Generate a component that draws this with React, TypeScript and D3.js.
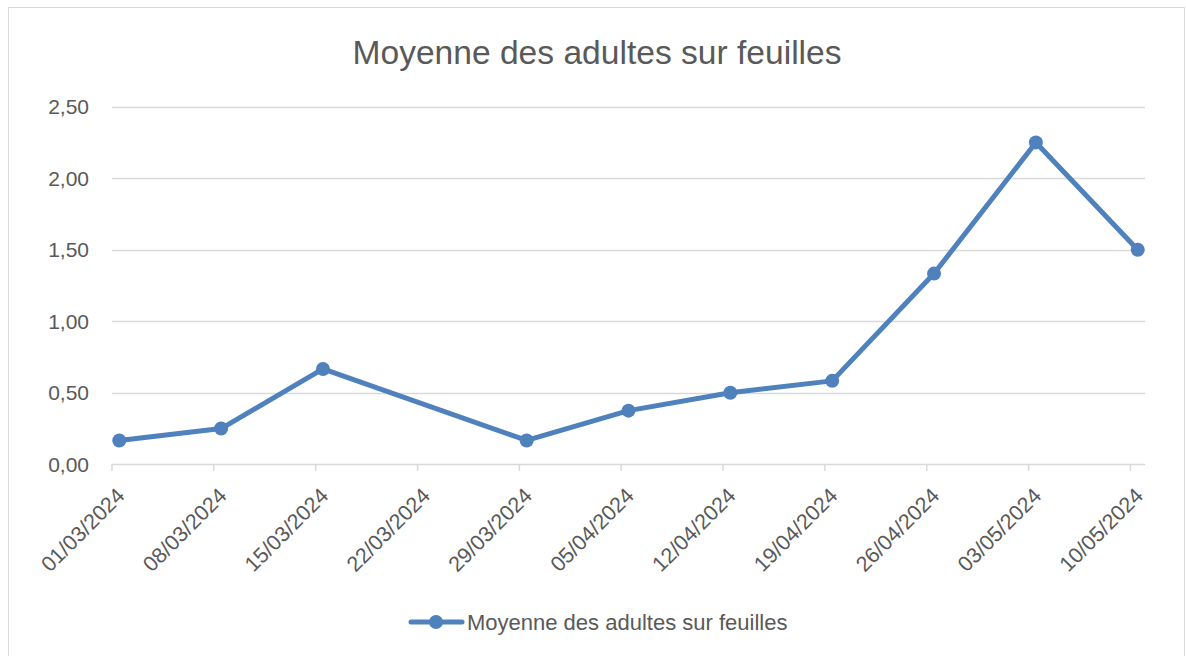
import React from "react";
import * as d3 from "d3";

const title = "Moyenne des adultes sur feuilles";
const seriesName = "Moyenne des adultes sur feuilles";
const tickDates = ["01/03/2024", "08/03/2024", "15/03/2024", "22/03/2024", "29/03/2024", "05/04/2024", "12/04/2024", "19/04/2024", "26/04/2024", "03/05/2024", "10/05/2024"];
const pointDates = ["01/03/2024", "08/03/2024", "15/03/2024", "29/03/2024", "05/04/2024", "12/04/2024", "19/04/2024", "26/04/2024", "03/05/2024", "10/05/2024"];
const pointValues = [0.1667, 0.25, 0.6667, 0.1667, 0.375, 0.5, 0.5833, 1.3333, 2.25, 1.5];
const yTicks = [0, 0.5, 1, 1.5, 2, 2.5];

const W = 1186;
const H = 656;
const FONT = "'Liberation Sans', Arial, sans-serif";
const TXT = "#595959";
const BLUE = "#4f81bd";

const parse = d3.timeParse("%d/%m/%Y");

export default function App() {
  const start = parse(tickDates[0])!;
  const end = parse(tickDates[tickDates.length - 1])!;
  const endPlus = d3.timeDay.offset(end, 1);
  // date axis with daily base unit: each day occupies a band; ticks at band starts, points at band centres
  const x = d3.scaleTime().domain([start, endPlus]).range([112, 1145]);
  const dayW = x(d3.timeDay.offset(start, 1)) - x(start);
  const y = d3.scaleLinear().domain([0, 2.5]).range([464.3, 106.7]);

  const pts = pointDates.map((d, i) => ({ x: x(parse(d)!) + dayW / 2, y: y(pointValues[i]) }));
  const line = d3.line<{ x: number; y: number }>().x((d) => d.x).y((d) => d.y);
  const fmt = (v: number) => d3.format(".2f")(v).replace(".", ",");

  return (
    <div style={{ position: "fixed", left: 0, top: 0 }}>
      <svg width={W} height={H} style={{ display: "block", background: "#fff" }}>
        <rect x={8.5} y={7.5} width={1176} height={660} fill="#fff" stroke="#d9d9d9" strokeWidth={1} />
        <text x={597} y={64} textAnchor="middle" fontFamily={FONT} fontSize={33.6} fill={TXT}>
          {title}
        </text>
        {yTicks.map((t) => (
          <g key={t}>
            <line x1={112} x2={1145} y1={Math.round(y(t)) + 0.5} y2={Math.round(y(t)) + 0.5} stroke="#d9d9d9" strokeWidth={1.5} />
            <text x={89} y={y(t) + 7.5} textAnchor="end" fontFamily={FONT} fontSize={21} fill={TXT}>
              {fmt(t)}
            </text>
          </g>
        ))}
        {tickDates.map((d) => {
          const tx = x(parse(d)!);
          return (
            <g key={d}>
              <line x1={tx} x2={tx} y1={464} y2={471} stroke="#d9d9d9" strokeWidth={1.5} />
              <text
                transform={`translate(${tx + 14},${497}) rotate(-45)`}
                textAnchor="end"
                fontFamily={FONT}
                fontSize={21.5}
                fill={TXT}
              >
                {d}
              </text>
            </g>
          );
        })}
        <path d={line(pts) || ""} fill="none" stroke={BLUE} strokeWidth={5} strokeLinejoin="round" strokeLinecap="round" />
        {pts.map((p, i) => (
          <circle key={i} cx={p.x} cy={p.y} r={7} fill={BLUE} />
        ))}
        <line x1={411} x2={462} y1={622} y2={622} stroke={BLUE} strokeWidth={5} strokeLinecap="round" />
        <circle cx={436} cy={622} r={7} fill={BLUE} />
        <text x={467} y={629.5} fontFamily={FONT} fontSize={22} fill={TXT}>
          {seriesName}
        </text>
      </svg>
    </div>
  );
}
